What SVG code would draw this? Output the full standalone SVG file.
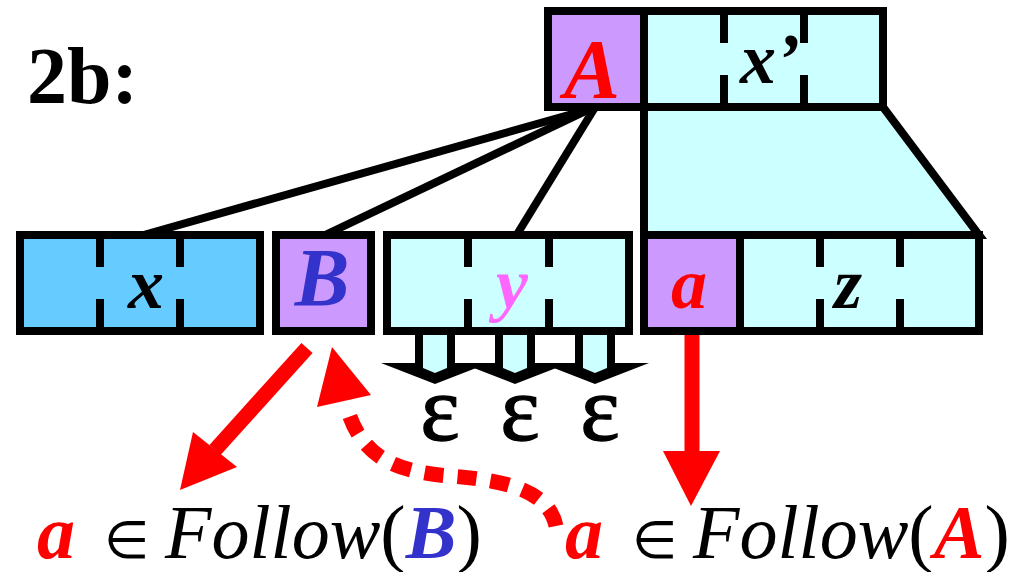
<svg xmlns="http://www.w3.org/2000/svg" width="1009" height="572" viewBox="0 0 1009 572">
<style>
.bx{stroke:#000;stroke-width:8;stroke-linejoin:miter}
.tk{stroke:#000;stroke-width:8}
.pur{fill:#CC99FF}
.cy{fill:#CCFFFF}
.bl{fill:#66CCFF}
.ser{font-family:"Liberation Serif","Times New Roman",serif}
.sym{font-weight:bold;font-style:italic}
.lbl{font-size:76px}
.el{font-size:52px}
.eps{font-size:94px;text-anchor:middle;stroke:#000;stroke-width:1.3}
.ln{stroke:#000;stroke-width:8;fill:none}
</style>
<rect width="1009" height="572" fill="#fff"/>
<text id="title" class="ser" x="27" y="103" font-weight="bold" font-size="80">2b:</text>

<g id="connectors">
<line class="ln" x1="590" y1="109" x2="140" y2="236"/>
<line class="ln" x1="590" y1="109" x2="323" y2="236"/>
<line class="ln" x1="594" y1="109" x2="516" y2="236"/>
<polygon class="bx cy" points="644,107 883,107 979,235 644,235"/>
<line x1="307" y1="348" x2="215" y2="450" stroke="#f00" stroke-width="15"/>
<polygon points="180,490 193,432 237,467" fill="#f00"/>
<path d="M556,526 C548,488 500,480 450,476 S360,460 346,404" fill="none" stroke="#f00" stroke-width="15" stroke-dasharray="19 14"/>
<polygon points="332,347 317,407 371,395" fill="#f00"/>
<line x1="692" y1="335" x2="692" y2="452" stroke="#f00" stroke-width="15"/>
<polygon points="663,451 720,451 691,506" fill="#f00"/>
</g>

<g id="nodeTop">
<rect class="bx pur" x="548" y="11" width="96" height="96"/>
<rect class="bx cy" x="644" y="11" width="239" height="96"/>
<line class="tk" x1="724" y1="11" x2="724" y2="43"/>
<line class="tk" x1="724" y1="75" x2="724" y2="107"/>
<line class="tk" x1="804" y1="11" x2="804" y2="43"/>
<line class="tk" x1="804" y1="75" x2="804" y2="107"/>
<text class="ser sym" x="592" y="98" font-size="84" fill="#f00" text-anchor="middle">A</text>
<text class="ser sym" x="740" y="83" font-size="72">x’</text>
</g>

<g id="nodeX">
<rect class="bx bl" x="20" y="235" width="240" height="96"/>
<line class="tk" x1="100" y1="235" x2="100" y2="267"/>
<line class="tk" x1="100" y1="299" x2="100" y2="331"/>
<line class="tk" x1="180" y1="235" x2="180" y2="267"/>
<line class="tk" x1="180" y1="299" x2="180" y2="331"/>
<text class="ser sym" x="146" y="308" font-size="72" text-anchor="middle">x</text>
</g>

<g id="nodeB">
<rect class="bx pur" x="276" y="235" width="95" height="96"/>
<text class="ser sym" x="322" y="305" font-size="82" fill="#3333CC" text-anchor="middle">B</text>
</g>

<g id="nodeY">
<polygon points="415,331 415,363 381,363 435,384 489,363 455,363 455,331" fill="#000"/>
<polygon points="495,331 495,363 461,363 515,384 569,363 535,363 535,331" fill="#000"/>
<polygon points="575,331 575,363 541,363 595,384 649,363 615,363 615,331" fill="#000"/>
<polygon class="cy" points="423,331 423,368 435,373 447,368 447,331"/>
<polygon class="cy" points="503,331 503,368 515,373 527,368 527,331"/>
<polygon class="cy" points="583,331 583,368 595,373 607,368 607,331"/>
<rect class="bx cy" x="387" y="235" width="242" height="96"/>
<line class="tk" x1="468" y1="235" x2="468" y2="267"/>
<line class="tk" x1="468" y1="299" x2="468" y2="331"/>
<line class="tk" x1="549" y1="235" x2="549" y2="267"/>
<line class="tk" x1="549" y1="299" x2="549" y2="331"/>
<text class="ser sym" x="512" y="308" font-size="72" fill="#FF66FF" text-anchor="middle">y</text>
<text class="ser eps" x="440" y="440">ε</text>
<text class="ser eps" x="520" y="440">ε</text>
<text class="ser eps" x="600" y="440">ε</text>
</g>

<g id="nodeAZ">
<rect class="bx pur" x="644" y="235" width="96" height="96"/>
<rect class="bx cy" x="740" y="235" width="239" height="96"/>
<line class="tk" x1="820" y1="235" x2="820" y2="267"/>
<line class="tk" x1="820" y1="299" x2="820" y2="331"/>
<line class="tk" x1="900" y1="235" x2="900" y2="267"/>
<line class="tk" x1="900" y1="299" x2="900" y2="331"/>
<text class="ser sym" x="689" y="308" font-size="72" fill="#f00" text-anchor="middle">a</text>
<text class="ser sym" x="848" y="308" font-size="72" text-anchor="middle">z</text>
</g>

<g id="labelB">
<text class="ser lbl" y="558"><tspan x="37" class="sym" fill="#f00">a</tspan><tspan x="104" class="el">∈</tspan><tspan x="165" font-style="italic">Follow</tspan><tspan>(</tspan><tspan class="sym" fill="#3333CC">B</tspan><tspan>)</tspan></text>
</g>
<g id="labelA">
<text class="ser lbl" y="558"><tspan x="565" class="sym" fill="#f00">a</tspan><tspan x="632" class="el">∈</tspan><tspan x="693" font-style="italic">Follow</tspan><tspan>(</tspan><tspan class="sym" fill="#f00">A</tspan><tspan>)</tspan></text>
</g>
</svg>
